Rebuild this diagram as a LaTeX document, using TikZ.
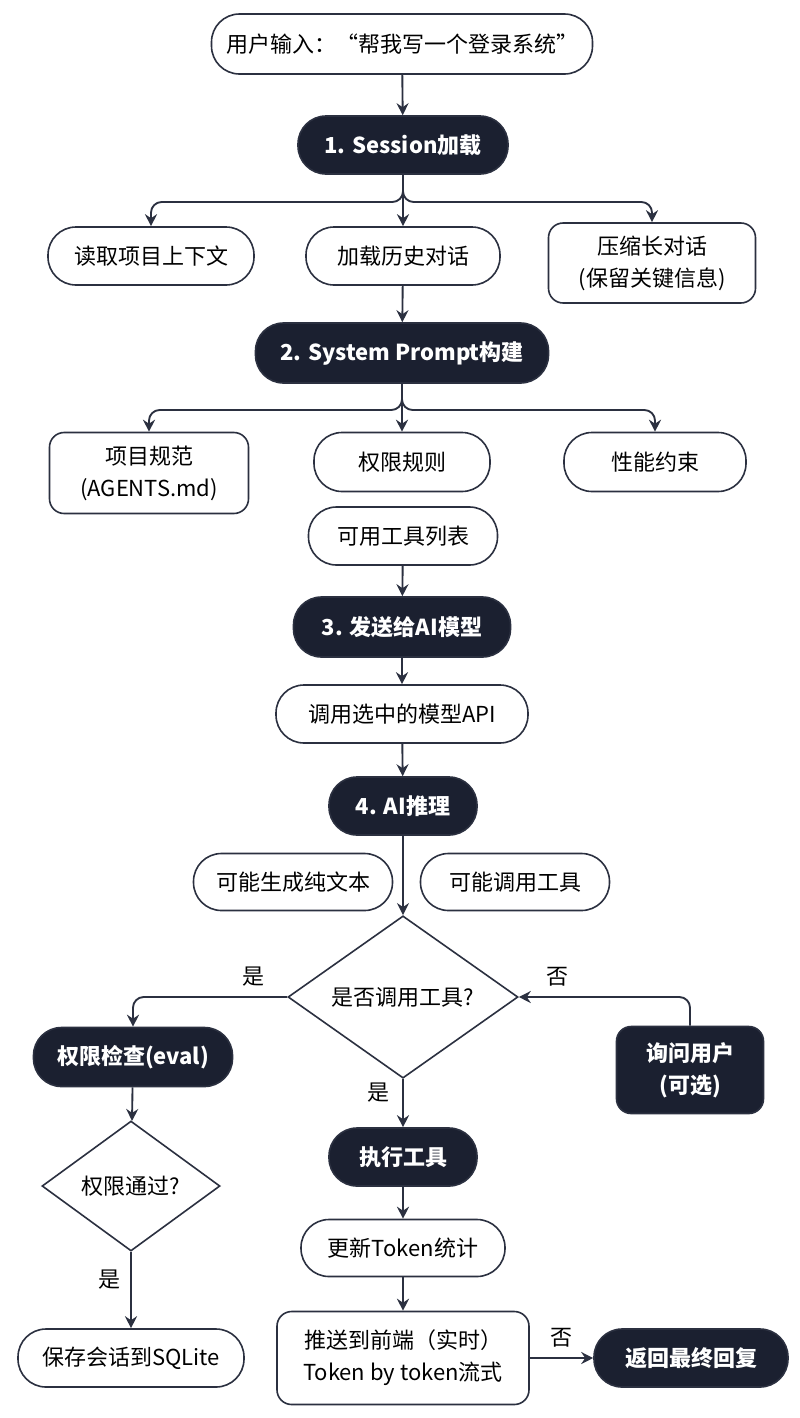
\documentclass[tikz,border=0pt]{standalone}
\usepackage{fontspec}
\setmainfont{Noto Sans CJK SC}
\usetikzlibrary{arrows.meta,shapes.geometric}

\definecolor{inkline}{HTML}{2B3040}
\definecolor{navyfill}{HTML}{1B2030}

\tikzset{every picture/.style={line width=0.75pt}}
\tikzset{
	base/.style={draw=inkline, line width=1.2pt, inner sep=0pt, align=center, font=\fontsize{16.5pt}{24pt}\selectfont, text=black},
	pill/.style={base, rectangle, rounded corners=21pt, minimum height=43.5pt, fill=white},
	darkpill/.style={pill, fill=navyfill, text=white, font=\fontsize{16.5pt}{24pt}\selectfont\bfseries},
	card/.style={base, rectangle, rounded corners=11pt, fill=white},
	darkcard/.style={card, fill=navyfill, text=white, font=\fontsize{16.5pt}{24pt}\selectfont\bfseries},
	choice/.style={base, diamond, fill=white},
	flow/.style={draw=inkline, line width=1.4pt, -{Stealth[length=9pt,width=9pt,inset=3pt]}},
	tag/.style={font=\fontsize{16.5pt}{20pt}\selectfont, text=black, inner sep=0pt}
}

\begin{document}
\begin{tikzpicture}[x=0.75pt,y=0.75pt,yscale=-1,xscale=1]
	\path[fill=white] (0,0) rectangle (800,1418);
	\useasboundingbox (0,0) rectangle (800,1418);

	%Shape: Rounded Rect [id:user]
	\node[pill, minimum width=285.75pt, minimum height=45pt] (user) at (402,44) {用户输入：“帮我写一个登录系统”};
	%Shape: Rounded Rect [id:session]
	\node[darkpill, minimum width=157.5pt] (session) at (403,145) {1. Session加载};
	\node[pill, minimum width=154.5pt] (ctx) at (151,256) {读取项目上下文};
	\node[pill, minimum width=145.5pt] (hist) at (403,256) {加载历史对话};
	\node[card, minimum width=155.25pt, minimum height=60pt] (compress) at (652,263) {压缩长对话\\(保留关键信息)};

	%Shape: Rounded Rect [id:sysprompt]
	\node[darkpill, minimum width=219.75pt, minimum height=45pt] (sysprompt) at (402,353) {2. System Prompt构建};
	\node[card, minimum width=149.25pt, minimum height=60.75pt] (spec) at (149,473) {项目规范\\(AGENTS.md)};
	\node[pill, minimum width=132pt, minimum height=44.25pt] (perm) at (402,462) {权限规则};
	\node[pill, minimum width=136.5pt, minimum height=44.25pt] (perf) at (655,462) {性能约束};
	\node[pill, minimum width=141.75pt] (tools) at (403,536) {可用工具列表};

	%Shape: Rounded Rect [id:send]
	\node[darkpill, minimum width=162.75pt, minimum height=45pt] (send) at (402,627) {3. 发送给AI模型};
	\node[pill, minimum width=189pt] (api) at (402,714) {调用选中的模型API};
	\node[darkpill, minimum width=111pt] (infer) at (403,806) {4. AI推理};
	\node[pill, minimum width=149.25pt, minimum height=42.75pt] (plain) at (293,882) {可能生成纯文本};
	\node[pill, minimum width=141.75pt, minimum height=42.75pt] (calltool) at (515,882) {可能调用工具};

	%Shape: Diamond [id:decide]
	\node[choice, minimum width=172.5pt, minimum height=111pt] (decide) at (403,997) {是否调用工具?};
	\node[darkpill, minimum width=149.25pt, minimum height=44.25pt] (check) at (133,1057) {权限检查(eval)};
	\node[choice, minimum width=133.5pt, minimum height=97.5pt] (pass) at (131,1186) {权限通过?};
	\node[pill, minimum width=169.5pt] (save) at (131,1358) {保存会话到SQLite};
	\node[darkcard, minimum width=110.25pt, minimum height=65.25pt] (ask) at (690,1070) {询问用户\\(可选)};

	%Shape: Rounded Rect [id:exec]
	\node[darkpill, minimum width=111pt] (exec) at (403,1157) {执行工具};
	\node[pill, minimum width=153pt, minimum height=42.75pt] (token) at (403,1248) {更新Token统计};
	\node[card, minimum width=189pt, minimum height=69.75pt] (push) at (403,1358) {推送到前端（实时）\\Token by token流式};
	\node[darkpill, minimum width=145.5pt] (reply) at (691,1358) {返回最终回复};

	% Branch points
	\coordinate (b1) at (403,202);
	\coordinate (b2) at (402,410);

	%Straight Lines
	\draw[flow] (user) -- (session);
	\draw[flow, rounded corners=8pt] (session.south) -- (b1) -| (ctx.north);
	\draw[flow] (session.south) -- (hist.north);
	\draw[flow, rounded corners=8pt] (session.south) -- (b1) -| (compress.north);
	\draw[flow] (hist) -- (sysprompt);
	\draw[flow, rounded corners=8pt] (sysprompt.south) -- (b2) -| (spec.north);
	\draw[flow] (sysprompt.south) -- (perm.north);
	\draw[flow, rounded corners=8pt] (sysprompt.south) -- (b2) -| (perf.north);
	\draw[flow] (tools) -- (send);
	\draw[flow] (send) -- (api);
	\draw[flow] (api) -- (infer);
	\draw[flow] (infer.south) -- (decide.north);
	\draw[flow, rounded corners=8pt] (decide.west) -| (check.north);
	\draw[flow] (check) -- (pass);
	\draw[flow] (pass.south) -- (save.north);
	\draw[flow] (decide.south) -- (exec.north);
	\draw[flow, rounded corners=8pt] (ask.north) |- (decide.east);
	\draw[flow] (exec) -- (token);
	\draw[flow] (token) -- (push);
	\draw[flow] (push.east) -- (reply.west);

	% Text Node
	\node[tag] (yesleft) at (253,977) {是};
	% Text Node
	\node[tag] (noright) at (557,977) {否};
	% Text Node
	\node[tag] (yesdown) at (378,1093) {是};
	% Text Node
	\node[tag] (yespass) at (109,1280) {是};
	% Text Node
	\node[tag] (noreply) at (561,1338) {否};

\end{tikzpicture}
\end{document}
